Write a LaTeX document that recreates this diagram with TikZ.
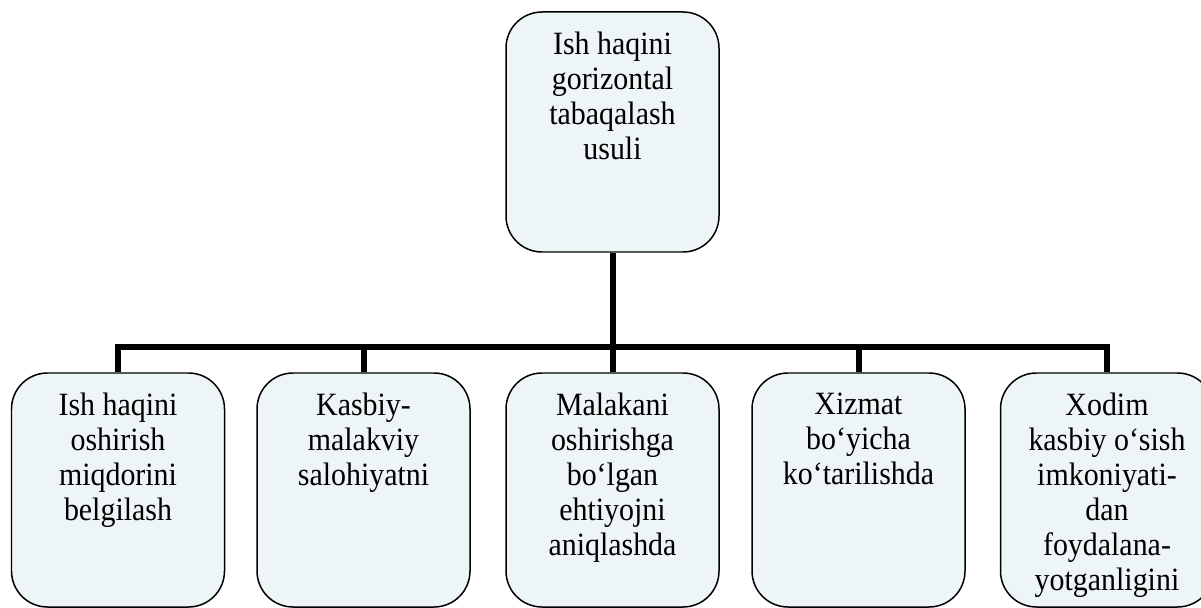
\documentclass[tikz,border=0pt]{standalone}
\usepackage{fontspec}
\setmainfont{Liberation Serif}[FakeStretch=0.92]

\definecolor{qutirang}{RGB}{237,245,247}
\newcommand{\qutimatn}[2]{\parbox[t][#1][t]{4cm}{\centering #2}}

\begin{document}
\begin{tikzpicture}[
  quti/.style={draw,rounded corners=0.72cm,fill=qutirang,line width=0.85pt,
    inner xsep=0pt,inner ysep=0.4cm,minimum width=4.26cm,
    font=\fontsize{18.5}{19.9}\selectfont},
  liniya/.style={line width=0.12cm}
]

\useasboundingbox (0,0) rectangle (24.02,-12.16);

\node[quti]
(T)
at (12.25,-2.64)
{\qutimatn{4cm}{Ish haqini\\gorizontal\\tabaqalash\\usuli}};

\node[quti]
(B1)
at (2.36,-9.8)
{\qutimatn{3.88cm}{Ish haqini\\oshirish\\miqdorini\\belgilash}};

\node[quti]
(B2)
at (7.27,-9.8)
{\qutimatn{3.88cm}{Kasbiy-\\malakviy\\salohiyatni}};

\node[quti]
(B3)
at (12.25,-9.8)
{\qutimatn{3.88cm}{Malakani\\oshirishga\\bo‘lgan\\ehtiyojni\\aniqlashda}};

\node[quti]
(B4)
at (17.17,-9.8)
{\qutimatn{3.88cm}{Xizmat\\bo‘yicha\\ko‘tarilishda}};

\node[quti]
(B5)
at (22.14,-9.8)
{\qutimatn{3.88cm}{Xodim\\kasbiy o‘sish\\imkoniyati-\\dan\\foydalana-\\yotganligini}};

\coordinate (bar) at (12.25,-6.94);

\draw[liniya]
(T.south)
--
(B3.north);

\draw[liniya]
(B1.north)
|-
(bar)
-|
(B5.north);

\draw[liniya] (B2.north) -- (B2.north |- bar);
\draw[liniya] (B4.north) -- (B4.north |- bar);

\end{tikzpicture}
\end{document}
